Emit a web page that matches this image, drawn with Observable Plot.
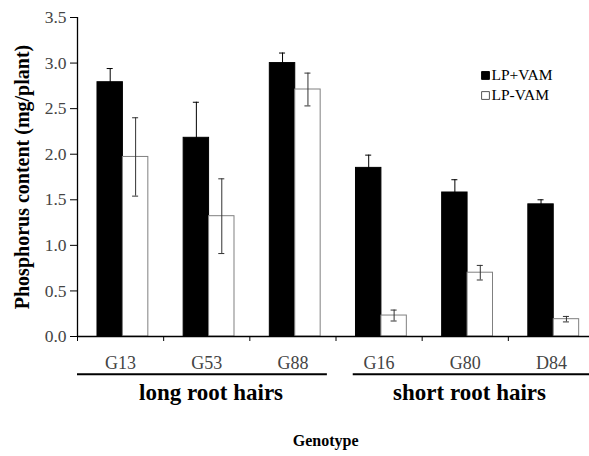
<!DOCTYPE html>
<html><head><meta charset="utf-8">
<script src="https://cdn.jsdelivr.net/npm/d3@7"></script>
<script src="https://cdn.jsdelivr.net/npm/@observablehq/plot@0.6"></script>
<style>body{margin:0;background:#fff}</style>
</head><body><div id="chart"></div>
<script>
// ---- data ----
const genotypes = ["G13", "G53", "G88", "G16", "G80", "D84"];
const treatments = ["LP+VAM", "LP-VAM"];
const withVam = [2.79, 2.18, 3.00, 1.85, 1.58, 1.45];
const withVamErr = [0.15, 0.39, 0.11, 0.14, 0.14, 0.05];
const withoutVam = [1.97, 1.32, 2.71, 0.23, 0.70, 0.19];
const withoutVamErr = [0.43, 0.41, 0.18, 0.06, 0.08, 0.03];
const groupLabels = ["long root hairs", "short root hairs"];
const groupSizes = [3, 3];
const yTicks = [0, 0.5, 1.0, 1.5, 2.0, 2.5, 3.0, 3.5];
const yLabel = "Phosphorus content (mg/plant)";
const xLabel = "Genotype";

// ---- layout (style) constants ----
const barStart = 0.232, barW = 0.295, cap = 0.035;
const fills = ["#000", "#fff"];

const rows = [];
genotypes.forEach((g, i) => {
  [withVam, withoutVam].forEach((arr, t) => {
    const err = (t === 0 ? withVamErr : withoutVamErr)[i];
    const x1 = i + barStart + t * barW;
    rows.push({genotype: g, treatment: treatments[t], t, value: arr[i], err, x1, x2: x1 + barW, xc: x1 + barW / 2});
  });
});
let acc = 0;
const groups = groupLabels.map((label, k) => {
  const from = acc; acc += groupSizes[k];
  return {label, from, to: acc, x1: from + (k === 0 ? 0 : 0.2), x2: acc - (k === 0 ? 0.1 : 0)};
});
const legend = treatments.map((t, k) => ({t, k}));
const errStroke = (d) => d.t === 0 ? "#000" : "#333";

const font = "Liberation Serif, Times New Roman, serif";
const chart = Plot.plot({
  width: 589, height: 456,
  marginLeft: 77, marginRight: 0, marginTop: 17, marginBottom: 120,
  style: {fontFamily: font, fontSize: "17px", color: "#333", background: "#fff"},
  x: {domain: [0, genotypes.length], range: [77, 594], axis: null},
  y: {domain: [0, 3.5], range: [336, 17], axis: null},
  marks: [
    Plot.rectY(rows, {x1: "x1", x2: "x2", y1: 0, y2: "value", fill: (d) => fills[d.t], stroke: (d) => d.t === 0 ? "#000" : "#808080", strokeWidth: 1}),
    Plot.ruleX(rows, {x: "xc", y1: (d) => d.value - d.err, y2: (d) => d.value + d.err, stroke: errStroke, strokeWidth: 1}),
    Plot.ruleY(rows, {y: (d) => d.value + d.err, x1: (d) => d.xc - cap, x2: (d) => d.xc + cap, stroke: errStroke, strokeWidth: 1}),
    Plot.ruleY(rows, {y: (d) => d.value - d.err, x1: (d) => d.xc - cap, x2: (d) => d.xc + cap, stroke: errStroke, strokeWidth: 1}),
    // axes
    Plot.axisY({ticks: yTicks, tickFormat: d3.format(".1f"), tickSize: 7, tickPadding: 4, fontSize: 17.5, fill: "#444", stroke: "#000", label: null}),
    Plot.ruleX([0], {y1: 0, y2: 3.5, stroke: "#000", strokeWidth: 1.3}),
    Plot.ruleY([0], {x1: 0, x2: genotypes.length, stroke: "#000", strokeWidth: 1.3}),
    Plot.axisX({ticks: d3.range(genotypes.length), tickSize: 5, tickFormat: () => "", stroke: "#000", label: null}),
    Plot.axisX({ticks: genotypes.map((g, i) => i + 0.5), tickSize: 0, tickPadding: 20, tickFormat: (v) => genotypes[Math.floor(v)], fontSize: 18, fill: "#444", label: null}),
    // group brackets
    Plot.ruleY(groups, {y: -0.415, x1: "x1", x2: "x2", stroke: "#000", strokeWidth: 2}),
    Plot.text(groups, {x: (d) => (d.from + d.to) / 2 + 0.05, y: -0.62, text: "label", fontSize: 23, fontWeight: "bold", fill: "#000"}),
    Plot.text([xLabel], {x: 2.88, y: -1.14, text: (d) => d, fontSize: 16, fontWeight: "bold", fill: "#000"}),
    Plot.text([yLabel], {x: -0.64, y: 1.75, text: (d) => d, rotate: -90, fontSize: 20, fontWeight: "bold", fill: "#000"}),
    // legend
    Plot.dot(legend, {x: 4.735, y: (d) => 2.864 - d.k * 0.22, symbol: "square", r: 4.4, fill: (d) => fills[d.k], stroke: (d) => d.k === 0 ? "#000" : "#555", strokeWidth: 1}),
    Plot.text(legend, {x: 4.805, y: (d) => 2.864 - d.k * 0.22, text: "t", textAnchor: "start", fontSize: 15.5, fill: "#000"})
  ]
});
document.getElementById("chart").append(chart);
</script>
</body></html>
